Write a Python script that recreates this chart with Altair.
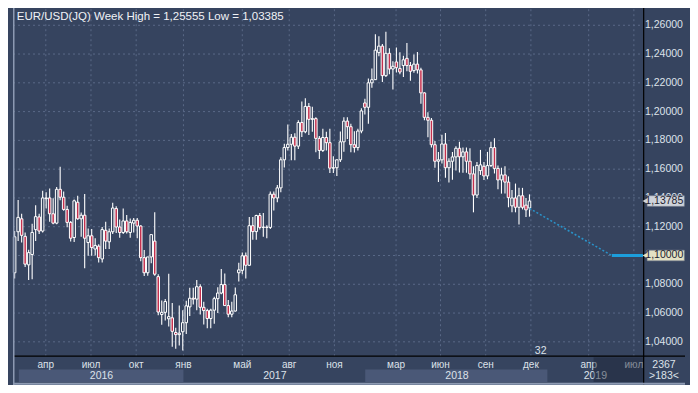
import altair as alt
import pandas as pd

W, H = 682, 377

TITLE = "EUR/USD(JQ) Week High = 1,25555 Low = 1,03385"

# Weekly candles (index = week number from the left edge)
opens = [1.0880, 1.1165, 1.1255, 1.1133, 1.0935, 1.1007, 1.1180, 1.1268, 1.1170, 1.1395,
         1.1400, 1.1290, 1.1225, 1.1460, 1.1405, 1.1320, 1.1230, 1.1125, 1.1370, 1.1255,
         1.1280, 1.1090, 1.1137, 1.1045, 1.1065, 1.0976, 1.1175, 1.1095, 1.1165, 1.1326,
         1.1198, 1.1160, 1.1240, 1.1160, 1.1225, 1.1245, 1.1205, 1.0985, 1.0880, 1.0990,
         1.1100, 1.0853, 1.0590, 1.0605, 1.0560, 1.0567, 1.0465, 1.0450, 1.0470, 1.0533,
         1.0643, 1.0703, 1.0697, 1.0783, 1.0640, 1.0617, 1.0562, 1.0620, 1.0700, 1.0739,
         1.0798, 1.0652, 1.0592, 1.0614, 1.0880, 1.0897, 1.0998, 1.0932, 1.1207, 1.1166,
         1.1278, 1.1195, 1.1197, 1.1195, 1.1426, 1.1400, 1.1470, 1.1665, 1.1750, 1.1773,
         1.1822, 1.1760, 1.1924, 1.1860, 1.2036, 1.1946, 1.1951, 1.1814, 1.1730, 1.1820,
         1.1784, 1.1607, 1.1610, 1.1665, 1.1790, 1.1934, 1.1895, 1.1770, 1.1750, 1.1865,
         1.2060, 1.2030, 1.2200, 1.2222, 1.2410, 1.2455, 1.2250, 1.2405, 1.2296, 1.2345,
         1.2300, 1.2320, 1.2370, 1.2320, 1.2285, 1.2330, 1.2290, 1.2130, 1.1960, 1.1940,
         1.1770, 1.1655, 1.1665, 1.1775, 1.1610, 1.1655, 1.1685, 1.1745, 1.1686, 1.1720,
         1.1655, 1.1567, 1.1420, 1.1590, 1.1620, 1.1553, 1.1625, 1.1750, 1.1605, 1.1525,
         1.1560, 1.1510, 1.1345, 1.1400, 1.1335, 1.1415, 1.1350, 1.1330]
highs = [1.1170, 1.1385, 1.1290, 1.1160, 1.1040, 1.1220, 1.1350, 1.1290, 1.1450, 1.1440,
         1.1465, 1.1398, 1.1476, 1.1616, 1.1445, 1.1346, 1.1240, 1.1390, 1.1416, 1.1299,
         1.1428, 1.1188, 1.1185, 1.1120, 1.1078, 1.1198, 1.1234, 1.1187, 1.1366, 1.1343,
         1.1250, 1.1327, 1.1282, 1.1257, 1.1260, 1.1260, 1.1210, 1.1039, 1.0990, 1.1145,
         1.1300, 1.0870, 1.0687, 1.0697, 1.0874, 1.0670, 1.0498, 1.0652, 1.0620, 1.0685,
         1.0775, 1.0775, 1.0829, 1.0800, 1.0679, 1.0630, 1.0630, 1.0714, 1.0780, 1.0906,
         1.0875, 1.0690, 1.0678, 1.0777, 1.0950, 1.1020, 1.1020, 1.1268, 1.1268, 1.1284,
         1.1296, 1.1296, 1.1210, 1.1445, 1.1445, 1.1490, 1.1683, 1.1777, 1.1910, 1.1845,
         1.1850, 1.1940, 1.2070, 1.2092, 1.2060, 1.2034, 1.1960, 1.1830, 1.1880, 1.1860,
         1.1880, 1.1690, 1.1668, 1.1861, 1.1961, 1.1960, 1.1915, 1.1863, 1.1880, 1.2024,
         1.2089, 1.2230, 1.2300, 1.2537, 1.2523, 1.2470, 1.2555, 1.2440, 1.2350, 1.2446,
         1.2413, 1.2388, 1.2476, 1.2345, 1.2396, 1.2414, 1.2305, 1.2135, 1.1995, 1.1955,
         1.1795, 1.1720, 1.1840, 1.1852, 1.1675, 1.1720, 1.1760, 1.1790, 1.1750, 1.1750,
         1.1745, 1.1620, 1.1650, 1.1734, 1.1650, 1.1720, 1.1790, 1.1815, 1.1625, 1.1610,
         1.1620, 1.1550, 1.1455, 1.1500, 1.1470, 1.1470, 1.1400, 1.1425]
lows = [1.0840, 1.1100, 1.1090, 1.0920, 1.0830, 1.0835, 1.1100, 1.1150, 1.1160, 1.1327,
        1.1234, 1.1217, 1.1218, 1.1384, 1.1311, 1.1196, 1.1097, 1.1094, 1.1248, 1.1131,
        1.0912, 1.0999, 1.0998, 1.1000, 1.0952, 1.0952, 1.1046, 1.1046, 1.1150, 1.1156,
        1.1123, 1.1150, 1.1153, 1.1123, 1.1160, 1.1120, 1.0960, 1.0858, 1.0859, 1.0946,
        1.0860, 1.0584, 1.0518, 1.0548, 1.0506, 1.0365, 1.0352, 1.0375, 1.0340, 1.0454,
        1.0580, 1.0659, 1.0620, 1.0590, 1.0521, 1.0494, 1.0494, 1.0525, 1.0600, 1.0730,
        1.0650, 1.0570, 1.0570, 1.0610, 1.0820, 1.0870, 1.0840, 1.0927, 1.1110, 1.1110,
        1.1180, 1.1130, 1.1120, 1.1185, 1.1312, 1.1370, 1.1440, 1.1612, 1.1729, 1.1662,
        1.1662, 1.1740, 1.1823, 1.1850, 1.1838, 1.1860, 1.1717, 1.1670, 1.1720, 1.1730,
        1.1574, 1.1574, 1.1553, 1.1650, 1.1721, 1.1810, 1.1717, 1.1716, 1.1730, 1.1850,
        1.1980, 1.1915, 1.2165, 1.2220, 1.2385, 1.2205, 1.2240, 1.2260, 1.2154, 1.2272,
        1.2260, 1.2240, 1.2280, 1.2215, 1.2270, 1.2265, 1.2055, 1.1940, 1.1822, 1.1750,
        1.1610, 1.1510, 1.1640, 1.1540, 1.1508, 1.1527, 1.1590, 1.1576, 1.1575, 1.1575,
        1.1530, 1.1300, 1.1400, 1.1560, 1.1525, 1.1530, 1.1615, 1.1570, 1.1460, 1.1430,
        1.1430, 1.1335, 1.1300, 1.1300, 1.1215, 1.1320, 1.1267, 1.1270]
closes = [1.1130, 1.1265, 1.1140, 1.0940, 1.1020, 1.1160, 1.1270, 1.1170, 1.1400, 1.1400,
          1.1290, 1.1225, 1.1460, 1.1405, 1.1320, 1.1230, 1.1120, 1.1380, 1.1255, 1.1280,
          1.1120, 1.1137, 1.1055, 1.1070, 1.0985, 1.1180, 1.1100, 1.1165, 1.1330, 1.1198,
          1.1160, 1.1240, 1.1165, 1.1230, 1.1245, 1.1205, 1.0985, 1.0880, 1.0990, 1.1145,
          1.0870, 1.0607, 1.0605, 1.0680, 1.0575, 1.0473, 1.0450, 1.0460, 1.0533, 1.0650,
          1.0703, 1.0697, 1.0783, 1.0640, 1.0617, 1.0562, 1.0620, 1.0700, 1.0739, 1.0798,
          1.0652, 1.0592, 1.0614, 1.0727, 1.0900, 1.0998, 1.0932, 1.1207, 1.1166, 1.1278,
          1.1195, 1.1197, 1.1195, 1.1426, 1.1400, 1.1470, 1.1665, 1.1750, 1.1773, 1.1822,
          1.1760, 1.1924, 1.1860, 1.2036, 1.1946, 1.1951, 1.1814, 1.1730, 1.1820, 1.1784,
          1.1607, 1.1610, 1.1665, 1.1790, 1.1934, 1.1895, 1.1770, 1.1750, 1.1865, 1.2005,
          1.2030, 1.2200, 1.2222, 1.2427, 1.2455, 1.2250, 1.2405, 1.2296, 1.2315, 1.2305,
          1.2275, 1.2360, 1.2320, 1.2280, 1.2330, 1.2290, 1.2130, 1.1960, 1.1940, 1.1770,
          1.1655, 1.1665, 1.1775, 1.1610, 1.1655, 1.1685, 1.1745, 1.1686, 1.1720, 1.1655,
          1.1567, 1.1420, 1.1625, 1.1630, 1.1553, 1.1625, 1.1750, 1.1605, 1.1525, 1.1560,
          1.1510, 1.1402, 1.1400, 1.1335, 1.1415, 1.1335, 1.1317, 1.13785]

price_ticks = [1.04, 1.06, 1.08, 1.10, 1.12, 1.14, 1.16, 1.18, 1.20, 1.22, 1.24, 1.26]
month_labels = ["апр", "июл", "окт", "янв", "май", "авг", "ноя", "мар", "июн", "сен", "дек", "апр", "июл"]
month_pos = [8.9, 21.8, 34.7, 48.2, 65.0, 78.4, 91.3, 108.9, 121.6, 134.5, 147.4, 163.9, 176.8]
year_labels = ["2016", "2017", "2018", "2019"]
year_pos = [24.8, 74.3, 126.3, 165.8]
band_start = [1.2, 100.1]
band_end = [48.2, 152.1]
tag_prices = [1.13785, 1.10000]
proj_dot_k = [147, 170.5]
proj_dot_p = [1.1327, 1.10]
proj_solid_k = [170.5, 179.6]
proj_solid_p = [1.10, 1.10]
counter_texts = ["2367", ">183<"]
marker_text = "32"

# ---- layout / style ----
X_DOM = [-0.467, 191.4]
Y_DOM = [1.01, 1.272]
PLOT_R = 179.6
SEP_P = 1.03
BG = "#36445f"
GRID = "#5a6987"
BAND = "#4a5877"
TEXT = "#dde2ea"
RED = "#c4304e"
FONT = "Liberation Sans"

XS = alt.Scale(domain=X_DOM, nice=False, zero=False)
YS = alt.Scale(domain=Y_DOM, nice=False, zero=False)


def X(f, **kw):
    return alt.X(f, type="quantitative", scale=XS, axis=None, **kw)


def Y(f, **kw):
    return alt.Y(f, type="quantitative", scale=YS, axis=None, **kw)


candles = pd.DataFrame({"o": opens, "h": highs, "l": lows, "c": closes})
candles["k"] = range(len(candles))
candles["lo"] = candles[["o", "c"]].min(axis=1)
candles["hi"] = candles[["o", "c"]].max(axis=1)
candles["dir"] = ["down" if c < o else "up" for o, c in zip(opens, closes)]

# bottom year bands
bands = pd.DataFrame({"a": band_start, "b": band_end, "y1": 1.0120, "y2": 1.0207})
band_layer = alt.Chart(bands).mark_rect(color=BAND).encode(
    x=X("a"), x2="b", y=Y("y1"), y2="y2")

# grid
hgrid = pd.DataFrame({"p": price_ticks, "a": X_DOM[0], "b": PLOT_R})
hgrid_layer = alt.Chart(hgrid).mark_rule(color=GRID, strokeWidth=1, strokeDash=[2, 3]).encode(
    x=X("a"), x2="b", y=Y("p"))
vgrid = pd.DataFrame({"k": month_pos, "a": SEP_P, "b": Y_DOM[1]})
vgrid_layer = alt.Chart(vgrid).mark_rule(color=GRID, strokeWidth=1, strokeDash=[2, 3]).encode(
    x=X("k"), y=Y("a"), y2="b")

# candles
wick = alt.Chart(candles).mark_rule(color="white", strokeWidth=1.1).encode(
    x=X("k"), y=Y("l"), y2="h")
body = alt.Chart(candles).mark_bar(size=2.5, stroke="white", strokeWidth=1).encode(
    x=X("k"), y=Y("lo"), y2="hi",
    fill=alt.Fill("dir:N", scale=alt.Scale(domain=["up", "down"], range=[BG, RED]), legend=None))

# projection
dot = pd.DataFrame({"k": proj_dot_k, "p": proj_dot_p})
dot_layer = alt.Chart(dot).mark_line(color="#2a92c8", strokeWidth=1.6, strokeDash=[2, 2]).encode(
    x=X("k"), y=Y("p"))
solid = pd.DataFrame({"k": proj_solid_k, "p": proj_solid_p})
solid_layer = alt.Chart(solid).mark_line(color="#1c9edc", strokeWidth=3).encode(
    x=X("k"), y=Y("p"))

# separators
sep_h = alt.Chart(pd.DataFrame({"a": [X_DOM[0]], "b": [X_DOM[1]], "p": [SEP_P]})).mark_rule(
    color="#000000", strokeWidth=1.2).encode(x=X("a"), x2="b", y=Y("p"))
sep_v = alt.Chart(pd.DataFrame({"k": [PLOT_R], "a": [Y_DOM[0]], "b": [Y_DOM[1]]})).mark_rule(
    color="#000000", strokeWidth=1.2).encode(x=X("k"), y=Y("a"), y2="b")
edge_b = alt.Chart(pd.DataFrame({"a": [X_DOM[0]], "b": [X_DOM[1]], "p": [1.0108]})).mark_rule(
    color="#8e9bb3", strokeWidth=2).encode(x=X("a"), x2="b", y=Y("p"))
edge_l = alt.Chart(pd.DataFrame({"k": [-0.25], "a": [Y_DOM[0]], "b": [Y_DOM[1]]})).mark_rule(
    color="#8e9bb3", strokeWidth=1.5).encode(x=X("k"), y=Y("a"), y2="b")

# price labels
plabels = pd.DataFrame({"p": price_ticks, "k": 185.4,
                        "t": [f"{v:.5f}".replace(".", ",") for v in price_ticks]})
plabel_layer = alt.Chart(plabels).mark_text(color=TEXT, font=FONT, fontSize=10.5).encode(
    x=X("k"), y=Y("p"), text="t:N")

# month / year labels
months = pd.DataFrame({"k": month_pos, "t": month_labels, "p": 1.0242})
month_layer = alt.Chart(months).mark_text(color=TEXT, font=FONT, fontSize=10).encode(
    x=X("k"), y=Y("p"), text="t:N")
years = pd.DataFrame({"k": year_pos, "t": year_labels, "p": 1.0165})
year_layer = alt.Chart(years).mark_text(color=TEXT, font=FONT, fontSize=10.5).encode(
    x=X("k"), y=Y("p"), text="t:N")

# dark overlay on the future part of the time strip
overlay = alt.Chart(pd.DataFrame({"a": [165.3], "b": [PLOT_R], "y1": [1.0120], "y2": [1.0293]})).mark_rect(
    color="#1a2234", opacity=0.45).encode(x=X("a"), x2="b", y=Y("y1"), y2="y2")

# counters
counters = pd.DataFrame({"k": 185.4, "p": [1.0240, 1.0165], "t": counter_texts})
counter_layer = alt.Chart(counters).mark_text(color=TEXT, font=FONT, fontSize=10.5).encode(
    x=X("k"), y=Y("p"), text="t:N")
marker = alt.Chart(pd.DataFrame({"k": [150.2], "p": [1.0335], "t": [marker_text]})).mark_text(
    color=TEXT, font=FONT, fontSize=10.5).encode(x=X("k"), y=Y("p"), text="t:N")

# title
title = alt.Chart(pd.DataFrame({"k": [0.6], "p": [1.2660], "t": [TITLE]})).mark_text(
    color="#f0f2f6", font=FONT, fontSize=11.5, align="left").encode(x=X("k"), y=Y("p"), text="t:N")

# price tags
tags = pd.DataFrame({"p": tag_prices,
                     "y1": [v - 0.0037 for v in tag_prices],
                     "y2": [v + 0.0037 for v in tag_prices],
                     "a": 180.6, "b": 191.2, "tip": 180.1,
                     "t": [f"{v:.5f}".replace(".", ",") for v in tag_prices],
                     "kind": ["last", "target"]})
tag_color = alt.Color("kind:N", scale=alt.Scale(domain=["last", "target"], range=["#cfd3da", "#e4e2c4"]), legend=None)
tag_box = alt.Chart(tags).mark_rect(stroke="#7d8594", strokeWidth=0.6).encode(
    x=X("a"), x2="b", y=Y("y1"), y2="y2", color=tag_color)
tag_tip = alt.Chart(tags).mark_point(shape="triangle-left", filled=True, size=45, opacity=1).encode(
    x=X("tip"), y=Y("p"), color=tag_color)
tag_text = alt.Chart(tags).mark_text(color="#1e2330", font=FONT, fontSize=10.5, align="right", dx=-1).encode(
    x=X("b"), y=Y("p"), text="t:N")

chart = alt.layer(
    band_layer, hgrid_layer, vgrid_layer, wick, body, dot_layer, solid_layer,
    plabel_layer, month_layer, year_layer, overlay, counter_layer, marker,
    sep_h, sep_v, edge_b, edge_l, tag_box, tag_tip, tag_text, title,
).properties(
    width=W, height=H,
    autosize=alt.AutoSizeParams(type="none"),
    padding=0,
    background=BG,
).configure_view(stroke=None, fill=BG)

chart.save("out.html", embed_options={"renderer": "svg", "actions": False})
